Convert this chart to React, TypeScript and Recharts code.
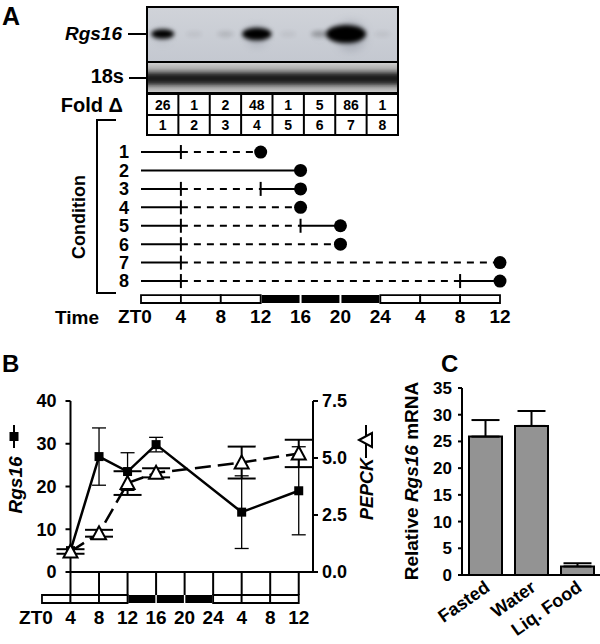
import React from 'react';
import {
  ComposedChart,
  BarChart,
  Bar,
  Line,
  Scatter,
  XAxis,
  YAxis,
  ErrorBar,
  ReferenceLine,
  ReferenceArea,
} from 'recharts';

const FONT = '"Liberation Sans", Arial, Helvetica, sans-serif';

// Panel A: northern blot, one lane per condition
const lanes = [1, 2, 3, 4, 5, 6, 7, 8];
const foldChange = [26, 1, 2, 48, 1, 5, 86, 1];

// Panel A: feeding schedule per condition (hours after ZT0)
const conditions = [1, 2, 3, 4, 5, 6, 7, 8];
const solidSpans = [[[0, 4]], [[0, 16]], [[0, 4], [12, 16]], [[0, 4]], [[0, 4], [16, 20]], [[0, 4]], [[0, 4]], [[0, 4], [32, 36]]];
const dashedSpans = [[[4, 12]], [], [[4, 12]], [[4, 16]], [[4, 16]], [[4, 20]], [[4, 36]], [[4, 32]]];
const switchTimes = [[4], [], [4, 12], [4], [4, 16], [4], [4], [4, 32]];
const harvestTimes = [12, 16, 16, 16, 20, 20, 36, 36];

// light / dark cycle, ZT0 to ZT12 of the next day
const phaseStarts = [0, 4, 8, 12, 16, 20, 24, 28, 32];
const phaseDark = [false, false, false, true, true, true, false, false, false];
const timeTicks = [0, 4, 8, 12, 16, 20, 24, 28, 32, 36];
const timeTickLabels = ['ZT0', '4', '8', '12', '16', '20', '24', '4', '8', '12'];

// Panel B
const bHours = [4, 8, 12, 16, 28, 36];
const rgs16Mean = [5, 27, 23.5, 29.8, 14, 19];
const rgs16Err = [0, 6.7, 4.4, 1.7, 8.5, 10.3];
const pepckMean = [0.9, 1.7, 3.9, 4.35, 4.8, 5.2];
const pepckErr = [0.1, 0.15, 0.52, 0.2, 0.7, 0.6];
const rgsTicks = [0, 10, 20, 30, 40];
const pepckTicks = [0, 2.5, 5, 7.5];

// Panel C
const treatments = ['Fasted', 'Water', 'Liq. Food'];
const relRgs16 = [25.9, 27.9, 1.6];
const relRgs16Err = [3.1, 2.8, 0.6];
const relTicks = [0, 5, 10, 15, 20, 25, 30, 35];

const txt = { fontFamily: FONT, fontWeight: 700, fill: '#000' } as const;
const axisStroke = { stroke: '#000', strokeWidth: 2 };

const segs = conditions.flatMap((c, i) => [
  ...solidSpans[i].map(([a, b]) => ({ c, a, b, dashed: false })),
  ...dashedSpans[i].map(([a, b]) => ({ c, a, b, dashed: true })),
]);
const switchPts = conditions.flatMap((c, i) => switchTimes[i].map((t) => ({ c, t })));
const harvestPts = conditions.map((c, i) => ({ c, t: harvestTimes[i] }));

const bData = bHours.map((t, i) => ({
  t,
  rgs16: rgs16Mean[i],
  rgs16Err: rgs16Err[i],
  pepck: pepckMean[i],
  pepckErr: pepckErr[i],
}));

const cData = treatments.map((name, i) => ({ name, value: relRgs16[i], err: [0, relRgs16Err[i]] }));

function ATick(props: any) {
  const { x, y, payload } = props;
  const v = payload.value;
  return (
    <text x={v === 0 ? x - 6 : x} y={y + 14.5} textAnchor="middle" fontSize={19} {...txt}>
      {timeTickLabels[timeTicks.indexOf(v)]}
    </text>
  );
}

function BTick(props: any) {
  const { x, y, payload } = props;
  const v = payload.value;
  return (
    <g>
      {v !== 0 && <line x1={x} x2={x} y1={y - 23} y2={y} stroke="#000" strokeWidth={2} />}
      <text x={v === 0 ? x - 6 : x} y={y + 29} textAnchor="middle" fontSize={19} {...txt}>
        {timeTickLabels[timeTicks.indexOf(v)]}
      </text>
    </g>
  );
}

function CTick(props: any) {
  const { x, y, payload } = props;
  const ax = x + 6;
  const ay = y + 15;
  return (
    <text x={ax} y={ay} textAnchor="end" fontSize={18} transform={`rotate(-35, ${ax}, ${ay})`} {...txt}>
      {payload.value}
    </text>
  );
}

function SquareDot(props: any) {
  const { cx, cy } = props;
  if (cx == null || cy == null) return null;
  return <rect x={cx - 4.5} y={cy - 4.5} width={9} height={9} fill="#000" />;
}

function TriDot(props: any) {
  const { cx, cy } = props;
  if (cx == null || cy == null) return null;
  return (
    <polygon
      points={`${cx},${cy - 7} ${cx - 7},${cy + 6} ${cx + 7},${cy + 6}`}
      fill="#fff"
      stroke="#000"
      strokeWidth={2}
    />
  );
}

function phaseAreas(yAxisId: any, y1: number, y2: number) {
  return phaseStarts.map((s, i) => (
    <ReferenceArea
      key={`ph${i}`}
      yAxisId={yAxisId}
      x1={phaseDark[i] ? s + 0.1 : s}
      x2={phaseDark[i] ? s + 3.9 : s + 4}
      y1={y1}
      y2={y2}
      fill={phaseDark[i] ? '#000' : '#fff'}
      fillOpacity={1}
      stroke={phaseDark[i] ? 'none' : '#000'}
      strokeWidth={1.8}
      ifOverflow="visible"
    />
  ));
}

function ConditionChart() {
  return (
    <ComposedChart width={600} height={340} margin={{ top: 133.6, right: 100, bottom: 1.3, left: 111 }}>
      <XAxis
        type="number"
        dataKey="t"
        domain={[0, 36]}
        ticks={timeTicks}
        interval={0}
        axisLine={false}
        tickLine={false}
        tickSize={0}
        tickMargin={0}
        height={30}
        tick={<ATick />}
      />
      <YAxis
        type="number"
        dataKey="c"
        domain={[0, 9.5]}
        reversed
        ticks={conditions}
        interval={0}
        axisLine={false}
        tickLine={false}
        tickSize={0}
        tickMargin={12}
        width={30}
        tick={{ ...txt, fontSize: 18 }}
      />
      {phaseAreas(0, 8.76, 9.19)}
      {segs.map((s, k) => (
        <ReferenceLine
          key={`sg${k}`}
          segment={[{ x: s.a, y: s.c }, { x: s.b, y: s.c }]}
          stroke="#000"
          strokeWidth={2}
          strokeDasharray={s.dashed ? '7 6' : undefined}
          ifOverflow="visible"
        />
      ))}
      {switchPts.map((p, k) => (
        <ReferenceLine
          key={`sw${k}`}
          segment={[{ x: p.t, y: p.c - 0.38 }, { x: p.t, y: p.c + 0.38 }]}
          stroke="#000"
          strokeWidth={2}
          ifOverflow="visible"
        />
      ))}
      <Scatter
        data={harvestPts}
        isAnimationActive={false}
        shape={(p: any) => <circle cx={p.cx} cy={p.cy} r={6.5} fill="#000" />}
      />
    </ComposedChart>
  );
}

function TimeCourseChart() {
  return (
    <ComposedChart width={440} height={300} data={bData} margin={{ top: 61, right: 82, bottom: 8, left: 30.5 }}>
      <XAxis
        type="number"
        dataKey="t"
        domain={[4, 38]}
        ticks={timeTicks}
        interval={0}
        tickSize={23}
        tickMargin={0}
        tickLine={false}
        axisLine={axisStroke}
        height={60}
        tick={<BTick />}
      />
      <YAxis
        yAxisId="l"
        domain={[0, 40]}
        ticks={rgsTicks}
        interval={0}
        width={40}
        tickSize={5}
        tickMargin={9}
        axisLine={axisStroke}
        tickLine={axisStroke}
        tick={{ ...txt, fontSize: 18 }}
      />
      <YAxis
        yAxisId="r"
        orientation="right"
        domain={[0, 7.5]}
        ticks={pepckTicks}
        interval={0}
        width={45}
        tickSize={5}
        tickMargin={4}
        axisLine={axisStroke}
        tickLine={axisStroke}
        tickFormatter={(v: number) => v.toFixed(1)}
        tick={{ ...txt, fontSize: 18 }}
      />
      {phaseAreas('l', -5.38, -7.25)}
      <Line
        yAxisId="l"
        dataKey="rgs16"
        stroke="#000"
        strokeWidth={2.5}
        dot={<SquareDot />}
        activeDot={false}
        isAnimationActive={false}
      >
        <ErrorBar dataKey="rgs16Err" width={7} strokeWidth={1.3} stroke="#000" direction="y" />
      </Line>
      <Line
        yAxisId="r"
        dataKey="pepck"
        stroke="#000"
        strokeWidth={2.5}
        strokeDasharray="16 7"
        dot={<TriDot />}
        activeDot={false}
        isAnimationActive={false}
      >
        <ErrorBar dataKey="pepckErr" width={14} strokeWidth={2} stroke="#000" direction="y" />
      </Line>
    </ComposedChart>
  );
}

function FastingBarChart() {
  return (
    <BarChart width={200} height={300} data={cData} margin={{ top: 48, right: 0, bottom: 5, left: 22 }}>
      <XAxis
        dataKey="name"
        interval={0}
        tickLine={false}
        tickSize={0}
        tickMargin={0}
        axisLine={axisStroke}
        height={60}
        tick={<CTick />}
      />
      <YAxis
        domain={[0, 35]}
        ticks={relTicks}
        interval={0}
        width={40}
        tickSize={4}
        tickMargin={6}
        axisLine={axisStroke}
        tickLine={axisStroke}
        tick={{ ...txt, fontSize: 17 }}
      />
      <Bar dataKey="value" fill="#939393" stroke="#000" strokeWidth={2} barSize={33} isAnimationActive={false}>
        <ErrorBar dataKey="err" width={14} strokeWidth={2} stroke="#000" direction="y" />
      </Bar>
    </BarChart>
  );
}

function Blot() {
  const x0 = 147;
  const x1 = 398;
  const w = (x1 - x0) / lanes.length;
  return (
    <g>
      <defs>
        <filter id="bandBlur" x="-50%" y="-50%" width="200%" height="200%">
          <feGaussianBlur stdDeviation="2.2" />
        </filter>
        <filter id="haloBlur" x="-50%" y="-50%" width="200%" height="200%">
          <feGaussianBlur stdDeviation="5" />
        </filter>
        <linearGradient id="rgsBg" x1="0" y1="0" x2="0" y2="1">
          <stop offset="0" stopColor="#d0d3d9" />
          <stop offset="1" stopColor="#c4c8d0" />
        </linearGradient>
        <linearGradient id="r18Bg" x1="0" y1="0" x2="0" y2="1">
          <stop offset="0" stopColor="#d6d6d6" />
          <stop offset="0.3" stopColor="#9c9c9c" />
          <stop offset="0.7" stopColor="#8a8a8a" />
          <stop offset="1" stopColor="#cfcfcf" />
        </linearGradient>
        <clipPath id="rgsClip">
          <rect x={x0} y={7} width={x1 - x0} height={55} />
        </clipPath>
        <clipPath id="r18Clip">
          <rect x={x0} y={62} width={x1 - x0} height={31} />
        </clipPath>
      </defs>
      <rect x={x0} y={7} width={x1 - x0} height={55} fill="url(#rgsBg)" />
      <g clipPath="url(#rgsClip)">
        {foldChange.map((f, i) => (
          <g key={`band${i}`}>
            <ellipse
              cx={x0 + (i + 0.5) * w}
              cy={36}
              rx={4 + f * 0.12}
              ry={4 + f * 0.12}
              fill="#6d7280"
              opacity={Math.min(0.35, f / 150)}
              filter="url(#haloBlur)"
            />
            <ellipse
              cx={x0 + (i + 0.5) * w - (f > 60 ? 5 : 0)}
              cy={34}
              rx={8 + f * 0.14}
              ry={3 + f * 0.07}
              fill="#000"
              opacity={Math.min(1, f / 20)}
              filter="url(#bandBlur)"
            />
          </g>
        ))}
      </g>
      <rect x={x0} y={62} width={x1 - x0} height={31} fill="url(#r18Bg)" />
      <g clipPath="url(#r18Clip)">
        <rect x={x0 - 5} y={73} width={x1 - x0 + 10} height={11} fill="#1a1a1a" filter="url(#bandBlur)" />
      </g>
      <rect x={x0} y={7} width={x1 - x0} height={86} fill="none" stroke="#000" strokeWidth={2} />
      <line x1={x0} x2={x1} y1={62} y2={62} stroke="#000" strokeWidth={2} />
      {/* fold change / lane table */}
      <rect x={x0} y={94} width={x1 - x0} height={41} fill="#fff" stroke="#000" strokeWidth={2} />
      <line x1={x0} x2={x1} y1={115} y2={115} stroke="#000" strokeWidth={2} />
      {lanes.slice(1).map((l, i) => (
        <line key={`col${l}`} x1={x0 + (i + 1) * w} x2={x0 + (i + 1) * w} y1={94} y2={135} stroke="#000" strokeWidth={2} />
      ))}
      {foldChange.map((f, i) => (
        <text key={`fc${i}`} x={x0 + (i + 0.5) * w} y={109.5} textAnchor="middle" fontSize={14} {...txt}>
          {f}
        </text>
      ))}
      {lanes.map((l, i) => (
        <text key={`ln${l}`} x={x0 + (i + 0.5) * w} y={130} textAnchor="middle" fontSize={14} {...txt}>
          {l}
        </text>
      ))}
    </g>
  );
}

export default function App() {
  return (
    <div style={{ position: 'absolute', left: 0, top: 0, width: 600, height: 644, background: '#fff', fontFamily: FONT }}>
      <div style={{ position: 'absolute', left: 0, top: 0 }}>
        <ConditionChart />
      </div>
      <div style={{ position: 'absolute', left: 0, top: 340 }}>
        <TimeCourseChart />
      </div>
      <div style={{ position: 'absolute', left: 400, top: 340 }}>
        <FastingBarChart />
      </div>
      <svg width={600} height={644} style={{ position: 'absolute', left: 0, top: 0, pointerEvents: 'none' }}>
        <text x={2} y={25} fontSize={25} {...txt}>A</text>
        <Blot />
        <text x={122} y={40} textAnchor="end" fontSize={19} fontStyle="italic" {...txt}>Rgs16</text>
        <line x1={128} x2={147} y1={34} y2={34} stroke="#000" strokeWidth={2} />
        <text x={124} y={83} textAnchor="end" fontSize={20} {...txt}>18s</text>
        <line x1={129} x2={147} y1={78} y2={78} stroke="#000" strokeWidth={2} />
        <text x={123} y={112} textAnchor="end" fontSize={20} {...txt}>Fold Δ</text>
        <path d="M116 120 H97 V293 H116" fill="none" stroke="#000" strokeWidth={2} />
        <text transform="translate(85,217) rotate(-90)" textAnchor="middle" fontSize={18} {...txt}>Condition</text>
        <text x={77} y={323.5} textAnchor="middle" fontSize={19} {...txt}>Time</text>

        <text x={2} y={372} fontSize={24} {...txt}>B</text>
        <line x1={14} x2={14} y1={425} y2={448} stroke="#000" strokeWidth={2} />
        <rect x={9.5} y={432} width={9} height={9} fill="#000" />
        <text transform="translate(22,485) rotate(-90)" textAnchor="middle" fontSize={19} fontStyle="italic" {...txt}>Rgs16</text>
        <text transform="translate(373,489) rotate(-90)" textAnchor="middle" fontSize={18} fontStyle="italic" {...txt}>PEPCK</text>
        <line x1={366} x2={366} y1={425} y2={458} stroke="#000" strokeWidth={2} />
        <polygon points="359,440 372,433 372,447" fill="#fff" stroke="#000" strokeWidth={2} />

        <text x={441} y={372} fontSize={24} {...txt}>C</text>
        <text transform="translate(418,481) rotate(-90)" textAnchor="middle" fontSize={19} {...txt}>
          Relative <tspan fontStyle="italic">Rgs16</tspan> mRNA
        </text>
      </svg>
    </div>
  );
}
